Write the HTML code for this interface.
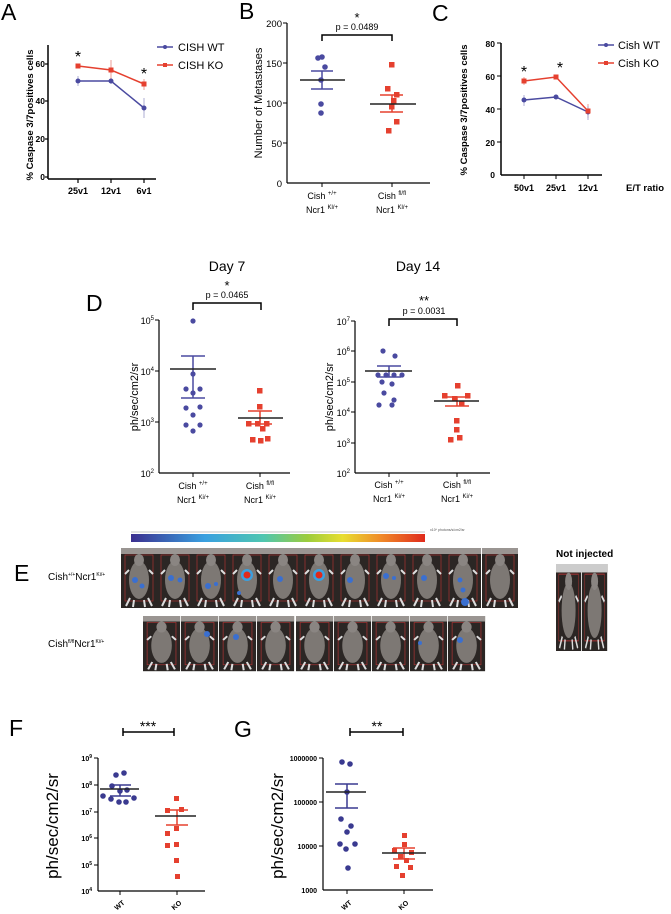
<!DOCTYPE html>
<html><head><meta charset="utf-8"><style>
html,body{margin:0;padding:0;background:#fff;}
svg{display:block;font-family:"Liberation Sans",sans-serif;}
</style></head><body>
<svg width="671" height="914" viewBox="0 0 671 914" xmlns="http://www.w3.org/2000/svg">
<defs>
<linearGradient id="cb" x1="0" x2="1">
<stop offset="0" stop-color="#3b2f8f"/><stop offset="0.25" stop-color="#3aa0e0"/><stop offset="0.45" stop-color="#4fc6b0"/><stop offset="0.6" stop-color="#9ccc3c"/><stop offset="0.72" stop-color="#e8de30"/><stop offset="0.85" stop-color="#f08a28"/><stop offset="1" stop-color="#e02a1c"/>
</linearGradient>
<g id="m">
<rect x="0" y="0" width="36" height="60" fill="#2b2624"/>
<rect x="0" y="0" width="36" height="6" fill="#9a9592"/>
<rect x="4" y="7" width="28" height="46" fill="none" stroke="#a33" stroke-width="0.7"/>
<ellipse cx="18" cy="32" rx="10" ry="19" fill="#7d7874"/>
<ellipse cx="18" cy="12" rx="5" ry="6" fill="#8a8582"/>
<path d="M9 50 L5 58 M27 50 L31 58 M13 52 L12 59 M23 52 L24 59 M8 22 L4 26 M28 22 L32 26" stroke="#ddd" stroke-width="2"/>
</g>
</defs>
<g fill="#000">
<!-- Panel A -->
<text x="1" y="20" font-size="23">A</text>
<line x1="48" y1="45" x2="48" y2="179" stroke="#000" stroke-width="1.5"/>
<line x1="48" y1="179" x2="156" y2="179" stroke="#000" stroke-width="1.5"/>
<g stroke="#000" stroke-width="1.2"><line x1="45" y1="64" x2="48" y2="64"/><line x1="45" y1="101" x2="48" y2="101"/><line x1="45" y1="139" x2="48" y2="139"/><line x1="45" y1="177" x2="48" y2="177"/><line x1="78" y1="179" x2="78" y2="183"/><line x1="111" y1="179" x2="111" y2="183"/><line x1="144" y1="179" x2="144" y2="183"/></g>
<g font-size="8.5" font-weight="bold" text-anchor="end"><text x="45" y="67">60</text><text x="45" y="104">40</text><text x="45" y="142">20</text><text x="45" y="180">0</text></g>
<g font-size="9" font-weight="bold" text-anchor="middle"><text x="78" y="194">25v1</text><text x="111" y="194">12v1</text><text x="144" y="194">6v1</text></g>
<text transform="translate(33,115) rotate(-90)" font-size="9.5" font-weight="bold" text-anchor="middle">% Caspase 3/7positives cells</text>
<polyline points="78,81 111,81 144,108" fill="none" stroke="#4a4aa0" stroke-width="1.5"/>
<polyline points="78,66 111,70 144,84" fill="none" stroke="#e5402f" stroke-width="1.5"/>
<g stroke="#9a9ac8" stroke-width="0.8"><line x1="78" y1="76" x2="78" y2="86"/><line x1="144" y1="98" x2="144" y2="118"/><line x1="111" y1="78" x2="111" y2="84"/></g>
<g stroke="#e8857a" stroke-width="0.8"><line x1="111" y1="60" x2="111" y2="80"/><line x1="144" y1="79" x2="144" y2="90"/></g>
<g fill="#4a4aa0"><circle cx="78" cy="81" r="2.5"/><circle cx="111" cy="81" r="2.5"/><circle cx="144" cy="108" r="2.5"/></g>
<g fill="#e5402f"><rect x="75.5" y="63.5" width="5" height="5"/><rect x="108.5" y="67.5" width="5" height="5"/><rect x="141.5" y="81.5" width="5" height="5"/></g>
<text x="78" y="62" font-size="16" text-anchor="middle">*</text><text x="144" y="79" font-size="16" text-anchor="middle">*</text>
<line x1="157" y1="47" x2="173" y2="47" stroke="#4a4aa0" stroke-width="1.5"/><circle cx="165" cy="47" r="2" fill="#4a4aa0"/>
<line x1="157" y1="65" x2="173" y2="65" stroke="#e5402f" stroke-width="1.5"/><rect x="163" y="63" width="4" height="4" fill="#e5402f"/>
<text x="178" y="51" font-size="11">CISH WT</text><text x="178" y="69" font-size="11">CISH KO</text>

<!-- Panel B -->
<text x="239" y="19" font-size="23">B</text>
<line x1="287" y1="23" x2="287" y2="183" stroke="#000" stroke-width="1.2"/>
<line x1="287" y1="183" x2="430" y2="183" stroke="#000" stroke-width="1.2"/>
<g stroke="#000"><line x1="283" y1="23" x2="287" y2="23"/><line x1="283" y1="63" x2="287" y2="63"/><line x1="283" y1="103" x2="287" y2="103"/><line x1="283" y1="143" x2="287" y2="143"/><line x1="322" y1="183" x2="322" y2="187"/><line x1="392" y1="183" x2="392" y2="187"/></g>
<g font-size="9.5" text-anchor="end"><text x="282" y="27">200</text><text x="282" y="67">150</text><text x="282" y="107">100</text><text x="282" y="147">50</text><text x="282" y="187">0</text></g>
<text transform="translate(262,103) rotate(-90)" font-size="11" text-anchor="middle">Number of Metastases</text>
<g font-size="9" text-anchor="middle"><text x="322" y="199">Cish <tspan font-size="6" dy="-4">+/+</tspan></text><text x="322" y="213">Ncr1 <tspan font-size="6" dy="-4">Kl/+</tspan></text><text x="392" y="199">Cish <tspan font-size="6" dy="-4">fl/fl</tspan></text><text x="392" y="213">Ncr1 <tspan font-size="6" dy="-4">Kl/+</tspan></text></g>
<path d="M322 41 V35 H392 V41" fill="none" stroke="#000" stroke-width="1.5"/>
<text x="357" y="30" font-size="9" text-anchor="middle">p = 0.0489</text><text x="357" y="22" font-size="13" text-anchor="middle">*</text>
<g fill="#4a4aa0"><circle cx="318" cy="58" r="2.8"/><circle cx="322" cy="57" r="2.8"/><circle cx="325" cy="67" r="2.8"/><circle cx="321" cy="80" r="2.8"/><circle cx="321" cy="104" r="2.8"/><circle cx="321" cy="113" r="2.8"/></g>
<path d="M311 71 H333 M311 89 H333 M322 71 V89" stroke="#4a4aa0" stroke-width="1.5"/>
<line x1="300" y1="80" x2="345" y2="80" stroke="#222" stroke-width="1.5"/>
<g fill="#e5402f"><rect x="389" y="62" width="5.5" height="5.5"/><rect x="385" y="86" width="5.5" height="5.5"/><rect x="394" y="92" width="5.5" height="5.5"/><rect x="391" y="98" width="5.5" height="5.5"/><rect x="389" y="104" width="5.5" height="5.5"/><rect x="394" y="119" width="5.5" height="5.5"/><rect x="386" y="128" width="5.5" height="5.5"/></g>
<path d="M380 95 H403 M380 112 H403 M392 95 V112" stroke="#e5402f" stroke-width="1.5"/>
<line x1="370" y1="104" x2="416" y2="104" stroke="#222" stroke-width="1.5"/>

<!-- Panel C -->
<text x="432" y="21" font-size="23">C</text>
<line x1="501" y1="43" x2="501" y2="175" stroke="#000" stroke-width="1.5"/>
<line x1="501" y1="175" x2="602" y2="175" stroke="#000" stroke-width="1.5"/>
<g stroke="#000"><line x1="497" y1="43" x2="501" y2="43"/><line x1="497" y1="76" x2="501" y2="76"/><line x1="497" y1="109" x2="501" y2="109"/><line x1="497" y1="142" x2="501" y2="142"/><line x1="524" y1="175" x2="524" y2="179"/><line x1="556" y1="175" x2="556" y2="179"/><line x1="588" y1="175" x2="588" y2="179"/></g>
<g font-size="8.5" font-weight="bold" text-anchor="end"><text x="495" y="47">80</text><text x="495" y="80">60</text><text x="495" y="113">40</text><text x="495" y="146">20</text><text x="495" y="178">0</text></g>
<g font-size="9" font-weight="bold" text-anchor="middle"><text x="524" y="191">50v1</text><text x="556" y="191">25v1</text><text x="588" y="191">12v1</text></g>
<text x="626" y="191" font-size="9.5" font-weight="bold">E/T ratio</text>
<text transform="translate(467,110) rotate(-90)" font-size="9.5" font-weight="bold" text-anchor="middle">% Caspase 3/7positives cells</text>
<polyline points="524,100 556,97 588,112" fill="none" stroke="#4a4aa0" stroke-width="1.5"/>
<polyline points="524,81 556,77 588,111" fill="none" stroke="#e5402f" stroke-width="1.5"/>
<g stroke="#e8857a" stroke-width="0.8"><line x1="524" y1="77" x2="524" y2="85"/><line x1="588" y1="104" x2="588" y2="118"/></g>
<g stroke="#9a9ac8" stroke-width="0.8"><line x1="524" y1="95" x2="524" y2="106"/><line x1="588" y1="106" x2="588" y2="120"/></g>
<g fill="#4a4aa0"><circle cx="524" cy="100" r="2.5"/><circle cx="556" cy="97" r="2.5"/><circle cx="588" cy="112" r="2.5"/></g>
<g fill="#e5402f"><rect x="521.5" y="78.5" width="5" height="5"/><rect x="553.5" y="74.5" width="5" height="5"/><rect x="585.5" y="108.5" width="5" height="5"/></g>
<text x="524" y="77" font-size="16" text-anchor="middle">*</text><text x="560" y="73" font-size="16" text-anchor="middle">*</text>
<line x1="598" y1="45" x2="614" y2="45" stroke="#4a4aa0" stroke-width="1.5"/><circle cx="606" cy="45" r="2" fill="#4a4aa0"/>
<line x1="598" y1="63" x2="614" y2="63" stroke="#e5402f" stroke-width="1.5"/><rect x="604" y="61" width="4" height="4" fill="#e5402f"/>
<text x="618" y="49" font-size="11">Cish WT</text><text x="618" y="67" font-size="11">Cish KO</text>

<!-- Panel D -->
<text x="86" y="311" font-size="23">D</text>
<text x="227" y="271" font-size="14" text-anchor="middle">Day 7</text>
<text x="418" y="271" font-size="14" text-anchor="middle">Day 14</text>
<line x1="159" y1="320" x2="159" y2="473" stroke="#000" stroke-width="1.2"/>
<line x1="159" y1="473" x2="290" y2="473" stroke="#000" stroke-width="1.2"/>
<g stroke="#000"><line x1="155" y1="320" x2="159" y2="320"/><line x1="155" y1="371" x2="159" y2="371"/><line x1="155" y1="422" x2="159" y2="422"/><line x1="193" y1="473" x2="193" y2="477"/><line x1="260" y1="473" x2="260" y2="477"/></g>
<g font-size="9" text-anchor="end"><text x="154" y="324">10<tspan font-size="6" dy="-4">5</tspan></text><text x="154" y="375">10<tspan font-size="6" dy="-4">4</tspan></text><text x="154" y="426">10<tspan font-size="6" dy="-4">3</tspan></text><text x="154" y="477">10<tspan font-size="6" dy="-4">2</tspan></text></g>
<text transform="translate(138,397) rotate(-90)" font-size="11" text-anchor="middle">ph/sec/cm2/sr</text>
<g font-size="9" text-anchor="middle"><text x="193" y="489">Cish <tspan font-size="6" dy="-4">+/+</tspan></text><text x="193" y="503">Ncr1 <tspan font-size="6" dy="-4">Ki/+</tspan></text><text x="260" y="489">Cish <tspan font-size="6" dy="-4">fl/fl</tspan></text><text x="260" y="503">Ncr1 <tspan font-size="6" dy="-4">Ki/+</tspan></text></g>
<path d="M193 310 V303 H261 V310" fill="none" stroke="#000" stroke-width="1.5"/>
<text x="227" y="298" font-size="9" text-anchor="middle">p = 0.0465</text><text x="227" y="290" font-size="13" text-anchor="middle">*</text>
<g fill="#4a4aa0"><circle cx="193" cy="321" r="2.6"/><circle cx="193" cy="374" r="2.6"/><circle cx="186" cy="389" r="2.6"/><circle cx="200" cy="389" r="2.6"/><circle cx="193" cy="393" r="2.6"/><circle cx="186" cy="408" r="2.6"/><circle cx="200" cy="407" r="2.6"/><circle cx="193" cy="415" r="2.6"/><circle cx="186" cy="425" r="2.6"/><circle cx="200" cy="425" r="2.6"/><circle cx="193" cy="431" r="2.6"/></g>
<path d="M181 356 H205 M181 398 H205 M193 356 V398" stroke="#4a4aa0" stroke-width="1.5"/>
<line x1="170" y1="369" x2="216" y2="369" stroke="#222" stroke-width="1.5"/>
<g fill="#e5402f"><rect x="257" y="388" width="5.5" height="5.5"/><rect x="257" y="404" width="5.5" height="5.5"/><rect x="246" y="421" width="5.5" height="5.5"/><rect x="255" y="421" width="5.5" height="5.5"/><rect x="264" y="421" width="5.5" height="5.5"/><rect x="260" y="426" width="5.5" height="5.5"/><rect x="250" y="437" width="5.5" height="5.5"/><rect x="258" y="438" width="5.5" height="5.5"/><rect x="265" y="436" width="5.5" height="5.5"/></g>
<path d="M248 411 H272 M248 424 H272 M260 411 V424" stroke="#e5402f" stroke-width="1.5"/>
<line x1="238" y1="418" x2="283" y2="418" stroke="#222" stroke-width="1.5"/>

<line x1="355" y1="321" x2="355" y2="473" stroke="#000" stroke-width="1.2"/>
<line x1="355" y1="473" x2="490" y2="473" stroke="#000" stroke-width="1.2"/>
<g stroke="#000"><line x1="351" y1="321" x2="355" y2="321"/><line x1="351" y1="351" x2="355" y2="351"/><line x1="351" y1="382" x2="355" y2="382"/><line x1="351" y1="412" x2="355" y2="412"/><line x1="351" y1="443" x2="355" y2="443"/><line x1="389" y1="473" x2="389" y2="477"/><line x1="457" y1="473" x2="457" y2="477"/></g>
<g font-size="9" text-anchor="end"><text x="350" y="325">10<tspan font-size="6" dy="-4">7</tspan></text><text x="350" y="355">10<tspan font-size="6" dy="-4">6</tspan></text><text x="350" y="386">10<tspan font-size="6" dy="-4">5</tspan></text><text x="350" y="416">10<tspan font-size="6" dy="-4">4</tspan></text><text x="350" y="447">10<tspan font-size="6" dy="-4">3</tspan></text><text x="350" y="477">10<tspan font-size="6" dy="-4">2</tspan></text></g>
<text transform="translate(333,397) rotate(-90)" font-size="11" text-anchor="middle">ph/sec/cm2/sr</text>
<g font-size="9" text-anchor="middle"><text x="389" y="488">Cish <tspan font-size="6" dy="-4">+/+</tspan></text><text x="389" y="502">Ncr1 <tspan font-size="6" dy="-4">Ki/+</tspan></text><text x="457" y="488">Cish <tspan font-size="6" dy="-4">fl/fl</tspan></text><text x="457" y="502">Ncr1 <tspan font-size="6" dy="-4">Ki/+</tspan></text></g>
<path d="M389 326 V319 H457 V326" fill="none" stroke="#000" stroke-width="1.5"/>
<text x="424" y="314" font-size="9" text-anchor="middle">p = 0.0031</text><text x="424" y="305" font-size="13" text-anchor="middle">**</text>
<g fill="#4a4aa0"><circle cx="383" cy="351" r="2.6"/><circle cx="395" cy="356" r="2.6"/><circle cx="378" cy="375" r="2.6"/><circle cx="386" cy="375" r="2.6"/><circle cx="394" cy="375" r="2.6"/><circle cx="402" cy="375" r="2.6"/><circle cx="382" cy="382" r="2.6"/><circle cx="392" cy="384" r="2.6"/><circle cx="384" cy="393" r="2.6"/><circle cx="394" cy="400" r="2.6"/><circle cx="379" cy="405" r="2.6"/><circle cx="392" cy="405" r="2.6"/></g>
<path d="M377 366 H401 M377 377 H401 M389 366 V377" stroke="#4a4aa0" stroke-width="1.5"/>
<line x1="365" y1="371" x2="412" y2="371" stroke="#222" stroke-width="1.5"/>
<g fill="#e5402f"><rect x="455" y="383" width="5.5" height="5.5"/><rect x="442" y="393" width="5.5" height="5.5"/><rect x="465" y="393" width="5.5" height="5.5"/><rect x="452" y="396" width="5.5" height="5.5"/><rect x="459" y="401" width="5.5" height="5.5"/><rect x="454" y="418" width="5.5" height="5.5"/><rect x="454" y="427" width="5.5" height="5.5"/><rect x="448" y="437" width="5.5" height="5.5"/><rect x="457" y="435" width="5.5" height="5.5"/></g>
<path d="M445 397 H469 M445 406 H469 M457 397 V406" stroke="#e5402f" stroke-width="1.5"/>
<line x1="434" y1="401" x2="479" y2="401" stroke="#222" stroke-width="1.5"/>

<!-- Panel E -->
<text x="14" y="581" font-size="23">E</text>
<text x="48" y="580" font-size="10">Cish<tspan font-size="5" dy="-4">+/+</tspan><tspan dy="4">Ncr1</tspan><tspan font-size="5" dy="-4">Ki/+</tspan></text>
<text x="48" y="647" font-size="10">Cish<tspan font-size="5" dy="-4">fl/fl</tspan><tspan dy="4">Ncr1</tspan><tspan font-size="5" dy="-4">Ki/+</tspan></text>
<rect x="131" y="534" width="294" height="8" fill="url(#cb)"/>
<line x1="131" y1="532" x2="425" y2="532" stroke="#888" stroke-width="0.6"/>
<text x="430" y="531" font-size="3.5" fill="#555">x10⁶ photons/s/cm2/sr</text>
<text x="556" y="557" font-size="10" font-weight="bold">Not injected</text>
</g>
<g>
<use href="#m" transform="translate(121,548)"/>
<use href="#m" transform="translate(157,548)"/>
<use href="#m" transform="translate(193,548)"/>
<use href="#m" transform="translate(229,548)"/>
<use href="#m" transform="translate(265,548)"/>
<use href="#m" transform="translate(301,548)"/>
<use href="#m" transform="translate(337,548)"/>
<use href="#m" transform="translate(373,548)"/>
<use href="#m" transform="translate(409,548)"/>
<use href="#m" transform="translate(445,548)"/>
<use href="#m" transform="translate(482,548)"/>
<use href="#m" transform="translate(143,616) scale(1.03,0.92)"/>
<use href="#m" transform="translate(181,616) scale(1.03,0.92)"/>
<use href="#m" transform="translate(219,616) scale(1.03,0.92)"/>
<use href="#m" transform="translate(257,616) scale(1.03,0.92)"/>
<use href="#m" transform="translate(296,616) scale(1.03,0.92)"/>
<use href="#m" transform="translate(334,616) scale(1.03,0.92)"/>
<use href="#m" transform="translate(372,616) scale(1.03,0.92)"/>
<use href="#m" transform="translate(410,616) scale(1.03,0.92)"/>
<use href="#m" transform="translate(448,616) scale(1.03,0.92)"/>
<use href="#m" transform="translate(556,564) scale(0.7,1.45)"/>
<use href="#m" transform="translate(582,564) scale(0.7,1.45)"/>
<rect x="556" y="564" width="51" height="8" fill="#ccc"/>
<g fill="#3a6fd0">
<circle cx="135" cy="580" r="3"/><circle cx="142" cy="586" r="2.5"/><circle cx="171" cy="578" r="3"/><circle cx="180" cy="580" r="2.5"/><circle cx="208" cy="586" r="3"/><circle cx="216" cy="584" r="2"/><circle cx="239" cy="593" r="2"/><circle cx="280" cy="579" r="3"/><circle cx="350" cy="580" r="3"/><circle cx="386" cy="576" r="3"/><circle cx="394" cy="578" r="2"/><circle cx="424" cy="578" r="3"/><circle cx="460" cy="580" r="2.5"/><circle cx="463" cy="590" r="2.5"/><circle cx="465" cy="602" r="4"/>
<circle cx="207" cy="634" r="3"/><circle cx="236" cy="637" r="3"/><circle cx="420" cy="643" r="2"/><circle cx="460" cy="640" r="3"/></g>
<circle cx="247" cy="575" r="6" fill="#3aa0e0"/><circle cx="247" cy="575" r="3.5" fill="#e02a1c"/>
<circle cx="319" cy="575" r="6" fill="#3aa0e0"/><circle cx="319" cy="575" r="3.5" fill="#e02a1c"/>
</g>

<!-- Panel F -->
<g fill="#000">
<text x="9" y="736" font-size="23">F</text>
<path d="M123 728 V736 M123 732 H174 M174 728 V736" stroke="#000" stroke-width="1.5"/>
<text x="148" y="731" font-size="14" text-anchor="middle">***</text>
<line x1="98" y1="758" x2="98" y2="891" stroke="#000" stroke-width="1.2"/>
<line x1="98" y1="891" x2="205" y2="891" stroke="#000" stroke-width="1.2"/>
<g stroke="#000"><line x1="94" y1="758" x2="98" y2="758"/><line x1="94" y1="785" x2="98" y2="785"/><line x1="94" y1="812" x2="98" y2="812"/><line x1="94" y1="838" x2="98" y2="838"/><line x1="94" y1="865" x2="98" y2="865"/><line x1="120" y1="891" x2="120" y2="895"/><line x1="177" y1="891" x2="177" y2="895"/></g>
<g font-size="7" font-weight="bold" text-anchor="end"><text x="92" y="761">10<tspan font-size="5" dy="-3">9</tspan></text><text x="92" y="788">10<tspan font-size="5" dy="-3">8</tspan></text><text x="92" y="815">10<tspan font-size="5" dy="-3">7</tspan></text><text x="92" y="841">10<tspan font-size="5" dy="-3">6</tspan></text><text x="92" y="868">10<tspan font-size="5" dy="-3">5</tspan></text><text x="92" y="894">10<tspan font-size="5" dy="-3">4</tspan></text></g>
<text transform="translate(58,826) rotate(-90)" font-size="17" text-anchor="middle">ph/sec/cm2/sr</text>
<g font-size="7" font-weight="bold" text-anchor="middle"><text transform="translate(121,907) rotate(-40)">WT</text><text transform="translate(178,907) rotate(-40)">KO</text></g>
<g fill="#3a3a90"><circle cx="116" cy="775" r="2.8"/><circle cx="124" cy="773" r="2.8"/><circle cx="112" cy="786" r="2.8"/><circle cx="120" cy="791" r="2.8"/><circle cx="127" cy="790" r="2.8"/><circle cx="103" cy="796" r="2.8"/><circle cx="111" cy="799" r="2.8"/><circle cx="119" cy="802" r="2.8"/><circle cx="126" cy="802" r="2.8"/><circle cx="134" cy="798" r="2.8"/></g>
<path d="M110 785 H131 M110 796 H131 M120 785 V796" stroke="#3a3a90" stroke-width="1.5"/>
<line x1="100" y1="789" x2="139" y2="789" stroke="#222" stroke-width="1.5"/>
<g fill="#e5402f"><rect x="174" y="796" width="5" height="5"/><rect x="165" y="808" width="5" height="5"/><rect x="179" y="807" width="5" height="5"/><rect x="174" y="826" width="5" height="5"/><rect x="165" y="831" width="5" height="5"/><rect x="174" y="842" width="5" height="5"/><rect x="165" y="843" width="5" height="5"/><rect x="174" y="858" width="5" height="5"/><rect x="175" y="874" width="5" height="5"/></g>
<path d="M166 810 H188 M166 825 H188 M177 810 V825" stroke="#e5402f" stroke-width="1.5"/>
<line x1="155" y1="816" x2="196" y2="816" stroke="#222" stroke-width="1.5"/>

<!-- Panel G -->
<text x="234" y="737" font-size="23">G</text>
<path d="M350 728 V736 M350 732 H403 M403 728 V736" stroke="#000" stroke-width="1.5"/>
<text x="377" y="731" font-size="14" text-anchor="middle">**</text>
<line x1="323" y1="758" x2="323" y2="890" stroke="#000" stroke-width="1.2"/>
<line x1="323" y1="890" x2="433" y2="890" stroke="#000" stroke-width="1.2"/>
<g stroke="#000"><line x1="319" y1="758" x2="323" y2="758"/><line x1="319" y1="802" x2="323" y2="802"/><line x1="319" y1="846" x2="323" y2="846"/><line x1="347" y1="890" x2="347" y2="894"/><line x1="404" y1="890" x2="404" y2="894"/></g>
<g font-size="7" font-weight="bold" text-anchor="end"><text x="317" y="761">1000000</text><text x="317" y="805">100000</text><text x="317" y="849">10000</text><text x="317" y="893">1000</text></g>
<text transform="translate(283,826) rotate(-90)" font-size="17" text-anchor="middle">ph/sec/cm2/sr</text>
<g font-size="7" font-weight="bold" text-anchor="middle"><text transform="translate(348,907) rotate(-40)">WT</text><text transform="translate(405,907) rotate(-40)">KO</text></g>
<g fill="#3a3a90"><circle cx="342" cy="762" r="2.8"/><circle cx="350" cy="764" r="2.8"/><circle cx="347" cy="792" r="2.8"/><circle cx="341" cy="819" r="2.8"/><circle cx="351" cy="826" r="2.8"/><circle cx="347" cy="832" r="2.8"/><circle cx="340" cy="844" r="2.8"/><circle cx="355" cy="844" r="2.8"/><circle cx="346" cy="849" r="2.8"/><circle cx="348" cy="868" r="2.8"/></g>
<path d="M335 784 H358 M335 808 H358 M347 784 V808" stroke="#3a3a90" stroke-width="1.5"/>
<line x1="326" y1="792" x2="366" y2="792" stroke="#222" stroke-width="1.5"/>
<g fill="#e5402f"><rect x="402" y="833" width="5" height="5"/><rect x="402" y="842" width="5" height="5"/><rect x="392" y="848" width="5" height="5"/><rect x="409" y="850" width="5" height="5"/><rect x="398" y="854" width="5" height="5"/><rect x="404" y="858" width="5" height="5"/><rect x="394" y="864" width="5" height="5"/><rect x="408" y="865" width="5" height="5"/><rect x="400" y="873" width="5" height="5"/></g>
<path d="M393 848 H415 M393 859 H415 M404 848 V859" stroke="#e5402f" stroke-width="1.5"/>
<line x1="382" y1="853" x2="426" y2="853" stroke="#222" stroke-width="1.5"/>
</g>
</svg>
</body></html>
